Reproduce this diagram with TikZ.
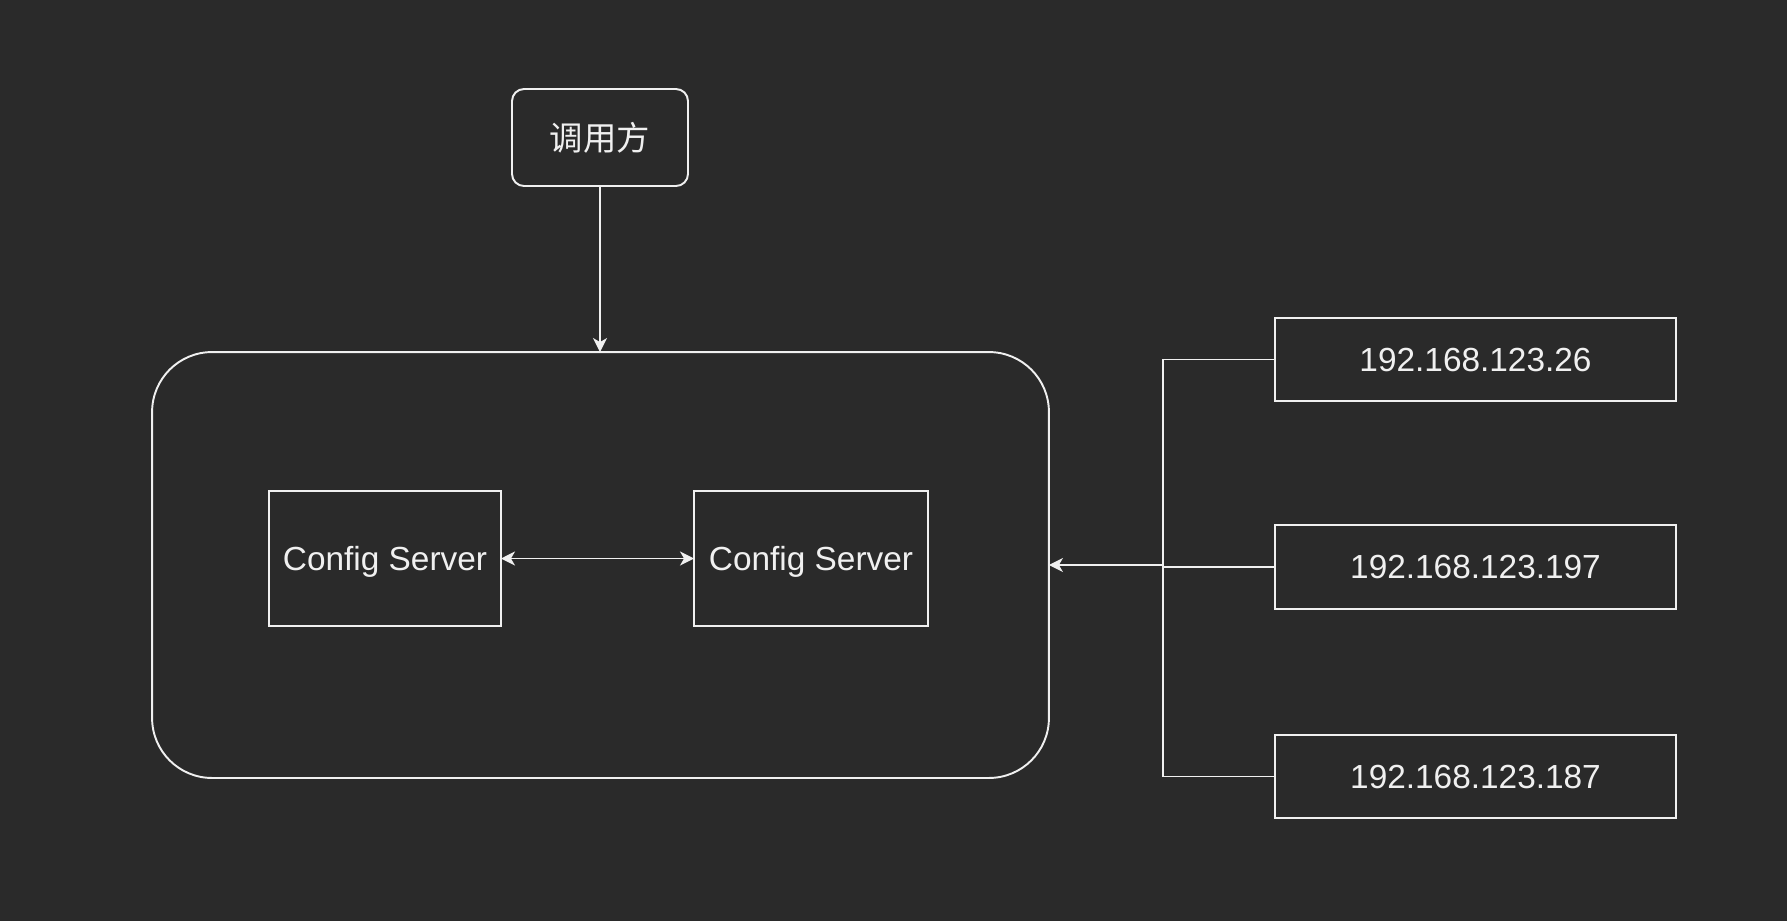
\documentclass[tikz,border=0pt]{standalone}
\usepackage{fontspec}
\setmainfont{Liberation Sans}
\newfontfamily\cjk{Noto Sans CJK SC}
\usetikzlibrary{arrows.meta}
\definecolor{bg}{HTML}{2A2A2A}
\definecolor{fg}{HTML}{F0F0F0}
\tikzset{
box/.style={draw=fg,line width=1.1pt,inner sep=0pt,outer sep=0pt,text=fg,font=\fontsize{19}{22}\selectfont},
arr/.style={draw=fg,line width=1.1pt,-{Stealth[length=0.28cm,width=0.28cm,inset=0.08cm]}}
}
\begin{document}
\begin{tikzpicture}[x=0.02cm,y=-0.02cm]
\fill[bg](0,0)rectangle(1787,921);
\useasboundingbox(0,0)rectangle(1787,921);
\node[box,rounded corners=0.24cm,minimum width=3.52cm,minimum height=1.94cm](caller)at(600,137.5){\cjk 调用方};
\node[box,rounded corners=1.2cm,minimum width=17.94cm,minimum height=8.52cm](cluster)at(600.5,565){};
\node[box,text depth=0pt,minimum width=4.64cm,minimum height=2.7cm](cs1)at(385,558.5){Config Server};
\node[box,text depth=0pt,minimum width=4.68cm,minimum height=2.7cm](cs2)at(811,558.5){Config Server};
\node[box,minimum width=8.02cm,minimum height=1.66cm](ip1)at(1475.5,359.5){192.168.123.26};
\node[box,minimum width=8.02cm,minimum height=1.68cm](ip2)at(1475.5,567){192.168.123.197};
\node[box,minimum width=8.02cm,minimum height=1.66cm](ip3)at(1475.5,776.5){192.168.123.187};
\coordinate(J)at(1163,565);
\draw[arr](caller.south)--(caller.south|-cluster.north);
\draw[arr,{Stealth[length=0.28cm,width=0.28cm,inset=0.08cm]}-{Stealth[length=0.28cm,width=0.28cm,inset=0.08cm]}](cs1)--(cs2);
\draw[draw=fg,line width=1.1pt](ip1.west)-|(J)(ip2.west)-|(J)(ip3.west)-|(J);
\draw[arr](J)--(cluster.east);
\end{tikzpicture}
\end{document}
